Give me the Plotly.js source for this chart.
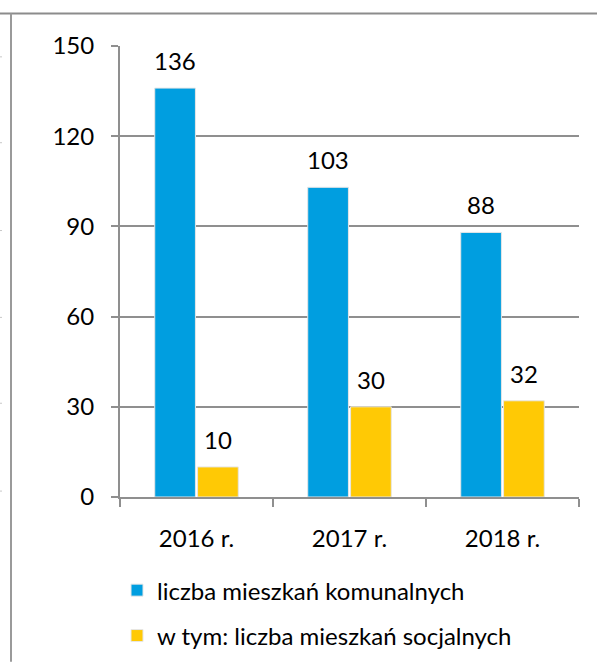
<!DOCTYPE html>
<html>
<head>
<meta charset="utf-8">
<script src="https://cdn.plot.ly/plotly-3.0.1.min.js"></script>
<style>html,body{margin:0;padding:0;background:#fff;}#chart{width:597px;height:670px;}</style>
</head>
<body>
<div id="chart"></div>
<script>
const categories = ["2016 r.", "2017 r.", "2018 r."];
const komunalne = [136, 103, 88];
const socjalne = [10, 30, 32];
const seriesNames = ["liczba mieszkań komunalnych", "w tym: liczba mieszkań socjalnych"];
const yTicks = [0, 30, 60, 90, 120, 150];

const W = 597, H = 670;
const L = 120, R = 18, T = 46, B = 167;
const pw = W - L - R, ph = H - T - B;
const px = p => (p - L) / pw;
const py = q => (H - B - q) / ph;

const FONT = "Lato, 'Open Sans', sans-serif";
const FS = 24;
const BLUE = "#009EE0", YELLOW = "#FFC905", GRID = "#8f8f8f";

const traces = [
  {type: "bar", x: categories, y: komunalne, name: seriesNames[0],
   marker: {color: BLUE, line: {color: "#e6e6e6", width: 1}}, legend: "legend", hoverinfo: "skip"},
  {type: "bar", x: categories, y: socjalne, name: seriesNames[1],
   marker: {color: YELLOW, line: {color: "#e6e6e6", width: 1}}, legend: "legend2", hoverinfo: "skip"}
];

const annotations = [];
[komunalne, socjalne].forEach((vals, si) => {
  vals.forEach((v, i) => {
    annotations.push({x: categories[i], y: v, text: String(v), showarrow: false,
      xanchor: "center", yanchor: "bottom", yshift: 11,
      xshift: (si === 0 ? -1 : 1) * 0.14 * pw / 3,
      font: {family: FONT, size: FS, color: "#000"}});
  });
});

const shapes = [
  {type: "line", xref: "paper", yref: "paper", x0: px(0), x1: px(597), y0: py(13), y1: py(13), line: {color: "#8c8c8c", width: 2}},
  {type: "line", xref: "paper", yref: "paper", x0: px(11), x1: px(11), y0: py(13), y1: py(670), line: {color: "#9a9a9a", width: 2}}
];
[57, 144, 233, 321, 408, 497].forEach(q => {
  shapes.push({type: "line", xref: "paper", yref: "paper", x0: px(0), x1: px(2), y0: py(q), y1: py(q), line: {color: "#c8c8c8", width: 1}});
});

const layout = {
  width: W, height: H,
  margin: {l: L, r: R, t: T, b: B, pad: 0},
  paper_bgcolor: "#fff", plot_bgcolor: "#fff",
  barmode: "group", bargap: 0.44, bargroupgap: 0.05,
  font: {family: FONT, size: FS, color: "#000"},
  xaxis: {type: "category", showline: true, linecolor: GRID, linewidth: 2,
    ticks: "outside", tickson: "boundaries", ticklen: 8, tickcolor: GRID, tickwidth: 2,
    showgrid: false, zeroline: false, fixedrange: true, ticklabelstandoff: 19,
    tickfont: {family: FONT, size: FS, color: "#000"}},
  yaxis: {range: [0, 150], tickvals: yTicks, ticktext: yTicks.map(String),
    showline: true, linecolor: GRID, linewidth: 2,
    ticks: "outside", ticklen: 7, tickcolor: GRID, tickwidth: 2,
    showgrid: true, gridcolor: GRID, gridwidth: 2, zeroline: false,
    ticklabelstandoff: 12, fixedrange: true,
    tickfont: {family: FONT, size: FS, color: "#000"}},
  showlegend: true,
  legend: {x: px(117), y: py(575), xanchor: "left", yanchor: "top", bgcolor: "rgba(0,0,0,0)",
    font: {family: FONT, size: FS, color: "#000"}, itemwidth: 30},
  legend2: {x: px(117), y: py(621), xanchor: "left", yanchor: "top", bgcolor: "rgba(0,0,0,0)",
    font: {family: FONT, size: FS, color: "#000"}, itemwidth: 30},
  annotations: annotations,
  shapes: shapes
};

Plotly.newPlot("chart", traces, layout, {displayModeBar: false, staticPlot: true});
</script>
</body>
</html>
